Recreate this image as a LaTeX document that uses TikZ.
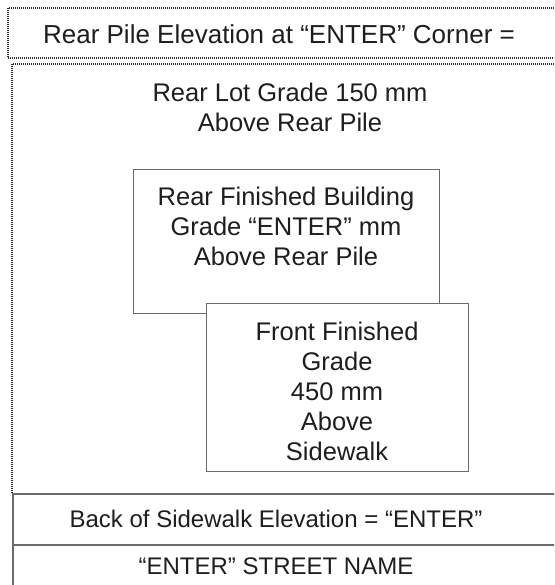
\documentclass[tikz,border=0pt]{standalone}
\usepackage{fontspec}
\setmainfont{Liberation Sans}
\definecolor{txtcol}{HTML}{1E1E1E}
\definecolor{linecol}{HTML}{6A6A6A}
\definecolor{dotcol}{HTML}{2A2A2A}
\tikzset{
  txt/.style={inner sep=0pt, align=center, text=txtcol, font=\fontsize{25.5}{30}\selectfont},
  toptxtstyle/.style={txt, font=\fontsize{26}{30}\selectfont},
  bandtxt/.style={txt, font=\fontsize{24}{28}\selectfont},
  solidbox/.style={draw=linecol, line width=1.3pt, fill=white, inner sep=0pt},
  dotline/.style={draw=dotcol, line width=1.2pt, dash pattern=on 1pt off 1pt},
  solidline/.style={draw=linecol, line width=1.3pt}
}
\begin{document}
\begin{tikzpicture}[x=1pt,y=-1pt]
\path[use as bounding box, clip] (0,0) rectangle (554,585);
\fill[white] (0,0) rectangle (554,585);
% top dotted box
\draw[dotline] (570,8) -- (8,8) -- (8,58) -- (570,58);
\node[toptxtstyle, anchor=north] (toptxt) at (279,24) {Rear Pile Elevation at “ENTER” Corner =};
% main dotted area
\draw[dotline] (570,64) -- (12,64) -- (12,494);
\node[txt, anchor=north] (lottxt) at (290,83) {Rear Lot Grade 150 mm\\Above Rear Pile};
% rear finished building box
\node[solidbox, anchor=north west, minimum width=306pt, minimum height=144pt] (rearbox) at (133,169) {};
\node[txt, anchor=north] (reartxt) at (286,187) {Rear Finished Building\\Grade “ENTER” mm\\Above Rear Pile};
% front finished grade box
\node[solidbox, anchor=north west, minimum width=262pt, minimum height=168pt] (frontbox) at (206,303) {};
\node[txt, anchor=north] (fronttxt) at (337,322) {Front Finished\\Grade\\450 mm\\Above\\Sidewalk};
% bottom bands
\draw[solidline] (13,590) -- (13,494) -- (570,494);
\draw[solidline] (13,545) -- (570,545);
\node[bandtxt] (sidewalktxt) at (276,519) {Back of Sidewalk Elevation = “ENTER”};
\node[bandtxt] (streettxt) at (276,566) {“ENTER” STREET NAME};
\end{tikzpicture}
\end{document}
